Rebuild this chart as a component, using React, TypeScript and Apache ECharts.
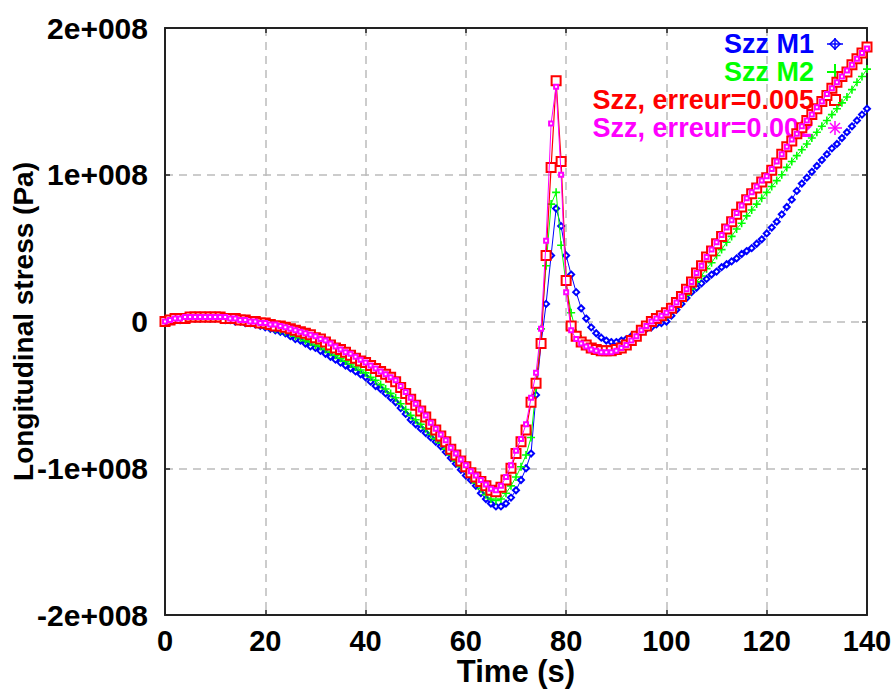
import React, { useEffect, useRef } from "react";
import * as echarts from "echarts";

// time (s)
const time: number[] = Array.from({ length: 141 }, (_, i) => i);

// Longitudinal stress, in MPa (1e6 Pa), one value per second
const szzM1: number[] = [
  0, 0, 1, 1, 2, 2, 2, 2, 2, 2,
  2, 2, 1, 1, 0, 0, -1, -1, -2, -3,
  -4, -5, -6, -7, -8, -10, -12, -13, -15, -17,
  -18, -20, -22, -24, -26, -28, -30, -32, -34, -36,
  -38, -41, -44, -46, -49, -52, -55, -59, -63, -67,
  -70, -73, -76, -79, -82, -85, -89, -93, -97, -101,
  -105, -108, -112, -117, -121, -124, -126, -126, -124, -120,
  -115, -108, -100, -90, -50, -15, 12, 45, 77, 65,
  45, 32, 20, 9, 2, -4, -8, -11, -13, -14,
  -14, -13, -12, -10, -9, -7, -5, -4, -2, -1,
  0, 4, 8, 12, 16, 20, 23, 26, 29, 32,
  34, 37, 39, 41, 43, 46, 48, 50, 53, 56,
  60, 64, 68, 73, 78, 83, 89, 94, 98, 102,
  106, 110, 114, 118, 121, 125, 129, 133, 137, 141,
  145,
];

const szzM2: number[] = [
  0, 1, 2, 3, 3, 4, 4, 4, 4, 4,
  4, 4, 3, 3, 2, 1, 1, 0, -1, -2,
  -3, -4, -5, -6, -7, -8, -10, -11, -13, -14,
  -16, -17, -19, -21, -23, -25, -27, -29, -31, -33,
  -35, -38, -40, -43, -46, -49, -52, -56, -60, -64,
  -67, -70, -73, -77, -80, -83, -87, -91, -95, -99,
  -102, -106, -110, -114, -118, -121, -122, -121, -117, -112,
  -106, -99, -91, -79, -45, -5, 38, 80, 88, 52,
  25, 6, -8, -12, -15, -17, -18, -19, -19, -19,
  -18, -17, -15, -12, -9, -6, -4, -2, 0, 2,
  4, 7, 10, 14, 18, 22, 27, 31, 36, 40,
  45, 49, 54, 58, 63, 67, 72, 76, 80, 84,
  88, 92, 96, 100, 105, 109, 113, 117, 121, 125,
  129, 133, 137, 141, 145, 149, 153, 158, 163, 167,
  172,
];

const szzErr005: number[] = [
  0, 1, 2, 2, 2, 3, 3, 3, 3, 3,
  3, 3, 2, 2, 2, 1, 1, 0, 0, -1,
  -1, -2, -3, -3, -4, -5, -6, -7, -8, -9,
  -11, -12, -14, -16, -18, -19, -21, -23, -25, -27,
  -28, -30, -32, -34, -36, -38, -41, -45, -49, -53,
  -57, -61, -65, -70, -74, -78, -82, -87, -91, -95,
  -99, -103, -106, -109, -112, -115, -116, -113, -108, -100,
  -90, -82, -74, -55, -42, -15, 45, 105, 164, 109,
  28, -3, -10, -14, -16, -18, -19, -20, -20, -20,
  -19, -18, -16, -13, -10, -6, -3, 0, 2, 4,
  6, 9, 13, 17, 22, 27, 33, 38, 44, 48,
  53, 58, 63, 68, 73, 78, 83, 87, 91, 95,
  98, 103, 108, 114, 119, 123, 128, 132, 137, 141,
  145, 150, 154, 159, 163, 167, 170, 175, 179, 183,
  187,
];

const szzErr002: number[] = [
  0, 1, 2, 2, 3, 3, 3, 3, 3, 3,
  3, 3, 3, 2, 2, 1, 1, 0, 0, -1,
  -1, -2, -2, -3, -4, -5, -6, -7, -8, -9,
  -10, -12, -13, -15, -17, -19, -21, -22, -24, -26,
  -28, -30, -32, -34, -36, -38, -40, -44, -48, -52,
  -56, -60, -64, -69, -73, -77, -81, -86, -90, -94,
  -98, -102, -105, -108, -111, -114, -115, -112, -106, -98,
  -88, -80, -70, -52, -35, -5, 55, 135, 160, 100,
  20, -6, -12, -15, -17, -19, -20, -21, -21, -21,
  -20, -18, -16, -13, -10, -6, -3, 0, 2, 4,
  6, 9, 13, 17, 22, 27, 33, 38, 44, 49,
  54, 59, 64, 69, 74, 79, 84, 88, 92, 96,
  99, 104, 109, 114, 119, 124, 128, 133, 137, 141,
  146, 150, 155, 159, 163, 167, 171, 175, 179, 183,
  186,
];

const seriesNames: string[] = ["Szz M1", "Szz M2", "Szz, erreur=0.005", "Szz, erreur=0.002"];
const xTicks: number[] = [0, 20, 40, 60, 80, 100, 120, 140];
const yTicks: number[] = [-2e8, -1e8, 0, 1e8, 2e8];

const BLUE = "#0000ff";
const GREEN = "#00ff00";
const RED = "#ff0000";
const MAGENTA = "#ff00ff";
const FONT = '"Liberation Sans", Arial, sans-serif';

const toPairs = (vals: number[]) => time.map((t, i) => [t, vals[i] * 1e6]);

export default function App() {
  const ref = useRef<HTMLDivElement>(null);

  useEffect(() => {
    if (!ref.current) return;
    const chart = echarts.init(ref.current, null, { renderer: "svg" });

    const gridLine = { show: true, lineStyle: { color: "#bcbcbc", width: 1.5, type: [8, 6] as any } };
    const axisLine = { show: true, onZero: false, lineStyle: { color: "#222", width: 2 } };
    const tickIn = { show: true, inside: true, length: 5, lineStyle: { color: "#222", width: 1.5 } };

    const legendRows = [
      { name: seriesNames[0], color: BLUE, y: 44 },
      { name: seriesNames[1], color: GREEN, y: 72 },
      { name: seriesNames[2], color: RED, y: 100 },
      { name: seriesNames[3], color: MAGENTA, y: 128 },
    ];
    const ix = 835;
    const graphics: any[] = legendRows.map((r) => ({
      type: "text",
      x: 814,
      y: r.y,
      z: 0,
      style: {
        text: r.name,
        fill: r.color,
        font: `bold 27px ${FONT}`,
        align: "right",
        verticalAlign: "middle",
      },
    }));
    // M1 icon: plus + diamond
    graphics.push(
      { type: "line", z: 0, shape: { x1: ix - 8, y1: 44, x2: ix + 8, y2: 44 }, style: { stroke: BLUE, lineWidth: 1.5 } },
      { type: "line", z: 0, shape: { x1: ix, y1: 38, x2: ix, y2: 50 }, style: { stroke: BLUE, lineWidth: 1.5 } },
      { type: "polygon", z: 0, shape: { points: [[ix - 5, 44], [ix, 39], [ix + 5, 44], [ix, 49]] }, style: { fill: "none", stroke: BLUE, lineWidth: 1.5 } }
    );
    // M2 icon: plus
    graphics.push(
      { type: "line", z: 0, shape: { x1: ix - 8, y1: 72, x2: ix + 8, y2: 72 }, style: { stroke: GREEN, lineWidth: 2 } },
      { type: "line", z: 0, shape: { x1: ix, y1: 64, x2: ix, y2: 80 }, style: { stroke: GREEN, lineWidth: 2 } }
    );
    // red icon: square
    graphics.push({ type: "rect", z: 0, shape: { x: ix - 5, y: 95, width: 10, height: 10 }, style: { fill: "#fff", stroke: RED, lineWidth: 2 } });
    // magenta icon: asterisk
    graphics.push(
      { type: "line", z: 0, shape: { x1: ix - 7, y1: 128, x2: ix + 7, y2: 128 }, style: { stroke: MAGENTA, lineWidth: 1.5 } },
      { type: "line", z: 0, shape: { x1: ix, y1: 121, x2: ix, y2: 135 }, style: { stroke: MAGENTA, lineWidth: 1.5 } },
      { type: "line", z: 0, shape: { x1: ix - 5, y1: 123, x2: ix + 5, y2: 133 }, style: { stroke: MAGENTA, lineWidth: 1.5 } },
      { type: "line", z: 0, shape: { x1: ix + 5, y1: 123, x2: ix - 5, y2: 133 }, style: { stroke: MAGENTA, lineWidth: 1.5 } }
    );

    chart.setOption({
      animation: false,
      backgroundColor: "#fff",
      grid: { left: 165, right: 25, top: 28, bottom: 77, containLabel: false, outerBoundsMode: "none" },
      xAxis: [
        {
          type: "value",
          min: xTicks[0],
          max: xTicks[xTicks.length - 1],
          interval: 20,
          name: "Time (s)",
          nameLocation: "middle",
          nameGap: 41,
          nameMoveOverlap: false,
          nameTextStyle: { color: "#000", fontFamily: FONT, fontWeight: "bold", fontSize: 31 },
          axisLine,
          axisTick: tickIn,
          splitLine: gridLine,
          axisLabel: { color: "#000", fontFamily: FONT, fontWeight: "bold", fontSize: 29, margin: 11 },
        },
        {
          type: "value",
          position: "top",
          min: xTicks[0],
          max: xTicks[xTicks.length - 1],
          interval: 20,
          axisLine,
          axisTick: tickIn,
          splitLine: { show: false },
          axisLabel: { show: false },
        },
      ],
      yAxis: [
        {
          type: "value",
          min: yTicks[0],
          max: yTicks[yTicks.length - 1],
          interval: 1e8,
          name: "Longitudinal stress (Pa)",
          nameLocation: "middle",
          nameGap: 128,
          nameMoveOverlap: false,
          nameTextStyle: { color: "#000", fontFamily: FONT, fontWeight: "bold", fontSize: 28 },
          axisLine,
          axisTick: tickIn,
          splitLine: gridLine,
          axisLabel: {
            color: "#000",
            fontFamily: FONT,
            fontWeight: "bold",
            fontSize: 30,
            margin: 17,
            formatter: (v: number) => (v === 0 ? "0" : `${v / 1e8}e+008`),
          },
        },
        {
          type: "value",
          position: "right",
          min: yTicks[0],
          max: yTicks[yTicks.length - 1],
          interval: 1e8,
          axisLine,
          axisTick: tickIn,
          splitLine: { show: false },
          axisLabel: { show: false },
        },
      ],
      graphic: { elements: graphics },
      series: [
        {
          name: seriesNames[0],
          type: "line",
          z: 3,
          data: toPairs(szzM1),
          symbol: "emptyDiamond",
          symbolSize: 6,
          lineStyle: { color: BLUE, width: 1 },
          itemStyle: { color: BLUE, borderColor: BLUE, borderWidth: 1 },
        },
        {
          name: seriesNames[1],
          type: "line",
          z: 4,
          data: toPairs(szzM2),
          symbol: "path://M2.4,0H3.6V2.4H6V3.6H3.6V6H2.4V3.6H0V2.4H2.4Z",
          symbolSize: 8,
          lineStyle: { color: GREEN, width: 1 },
          itemStyle: { color: GREEN, borderWidth: 0 },
        },
        {
          name: seriesNames[2],
          type: "line",
          z: 5,
          data: toPairs(szzErr005),
          symbol: "emptyRect",
          symbolSize: 9,
          lineStyle: { color: RED, width: 1.2 },
          itemStyle: { color: RED, borderColor: RED, borderWidth: 1.8 },
        },
        {
          name: seriesNames[3],
          type: "line",
          z: 6,
          data: toPairs(szzErr002),
          symbol: "emptyRect",
          symbolSize: 4,
          lineStyle: { color: MAGENTA, width: 1 },
          itemStyle: { color: MAGENTA, borderColor: MAGENTA, borderWidth: 1 },
        },
      ],
    });

    return () => chart.dispose();
  }, []);

  return <div ref={ref} style={{ width: 892, height: 692, position: "absolute", left: 0, top: 0 }} />;
}
